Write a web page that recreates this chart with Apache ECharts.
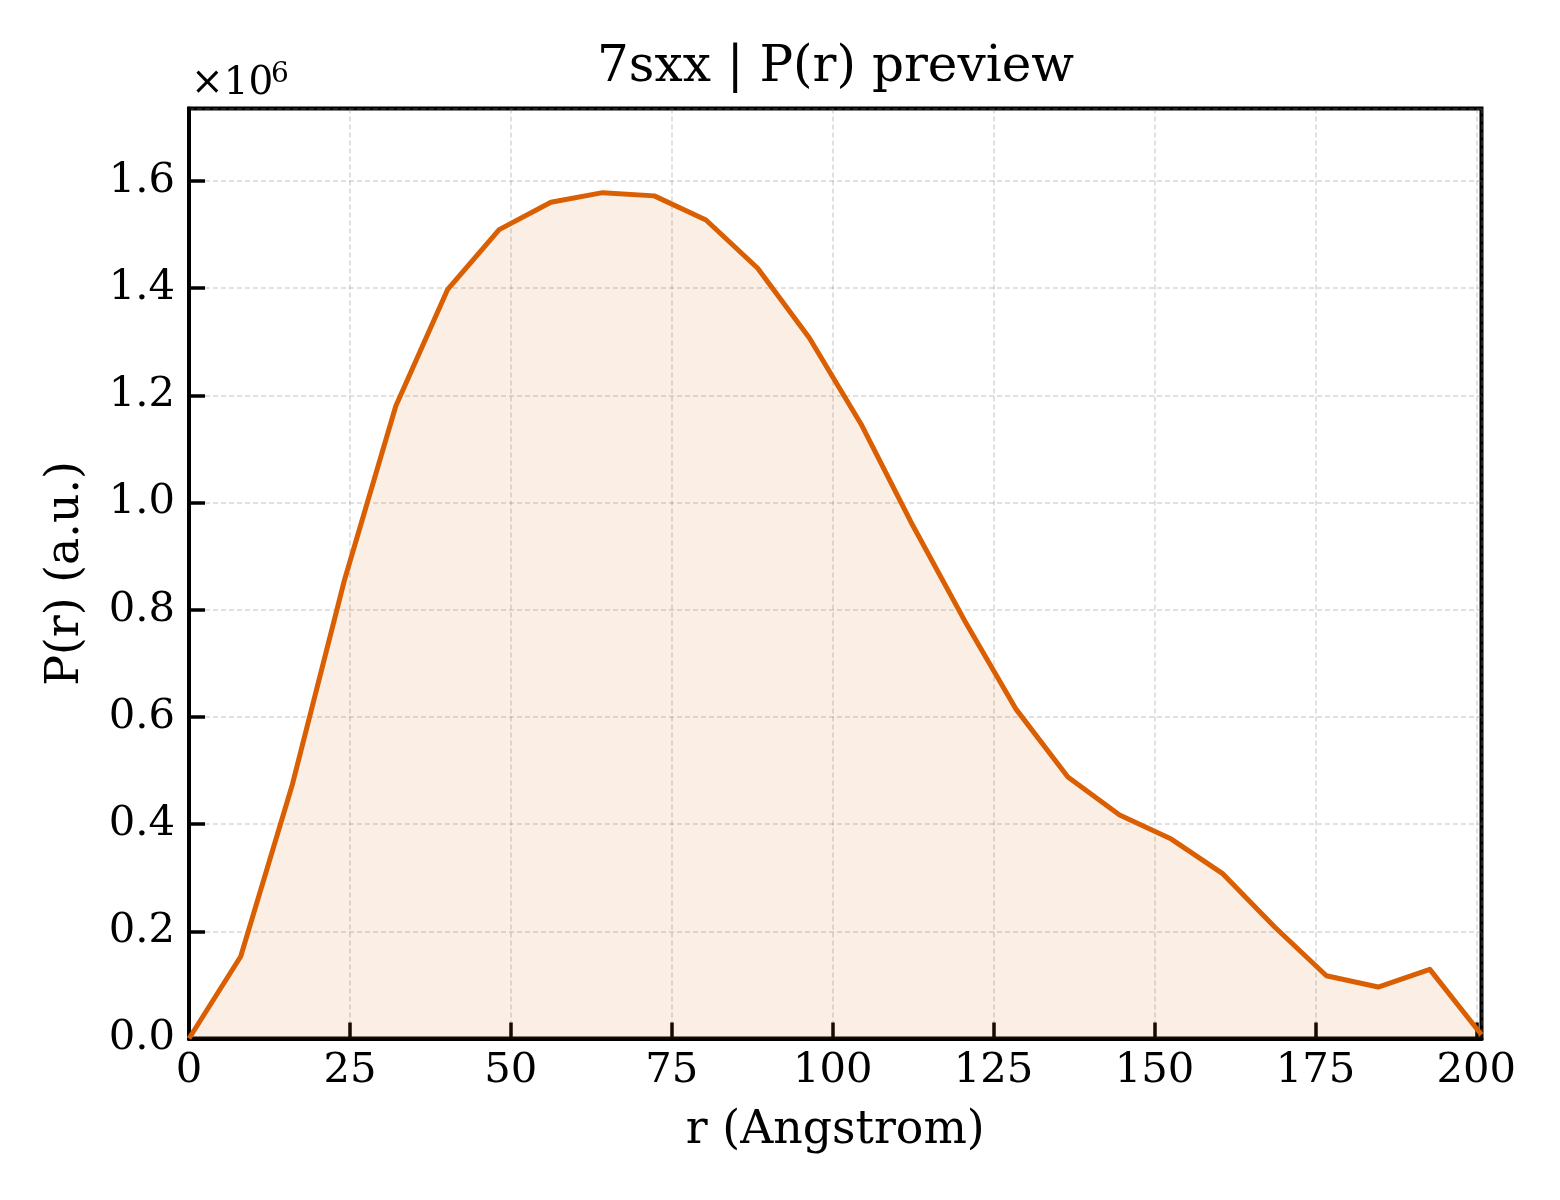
<!DOCTYPE html>
<html>
<head>
<meta charset="utf-8">
<script src="https://cdn.jsdelivr.net/npm/echarts@6/dist/echarts.min.js"></script>
<style>
  html, body { margin: 0; padding: 0; background: #ffffff; }
  #chart { width: 1560px; height: 1200px; }
</style>
</head>
<body>
<div id="chart"></div>
<script>
// r (Angstrom)
const rValues = [0, 8.03, 16.06, 24.1, 32.13, 40.16, 48.19, 56.22, 64.26, 72.29,
                 80.32, 88.35, 96.38, 104.42, 112.45, 120.48, 128.51, 136.54, 144.58,
                 152.61, 160.64, 168.67, 176.7, 184.74, 192.77, 200.8];
// P(r) in units of 1e6 (a.u.)
const prMillions = [0.0, 0.153, 0.474, 0.853, 1.180, 1.397, 1.509, 1.560, 1.578, 1.572,
                    1.527, 1.437, 1.307, 1.146, 0.957, 0.780, 0.614, 0.488, 0.417,
                    0.372, 0.307, 0.208, 0.117, 0.096, 0.129, 0.007];
const xTickValues = [0, 25, 50, 75, 100, 125, 150, 175, 200];
const yTickValues = [0.0, 0.2, 0.4, 0.6, 0.8, 1.0, 1.2, 1.4, 1.6];
const titleText = '7sxx | P(r) preview';
const xLabel = 'r (Angstrom)';
const yLabel = 'P(r) (a.u.)';

const FONT = "'DejaVu Serif', 'Liberation Serif', serif";
const chart = echarts.init(document.getElementById('chart'), null, { renderer: 'canvas' });

const gridStyle = { color: 'rgba(128,128,128,0.32)', width: 1.5, type: [5, 3] };

const option = {
  backgroundColor: '#ffffff',
  animation: false,
  grid: {
    left: 189, right: 78.5, top: 108.5, bottom: 161.5,
    show: true, borderColor: '#000', borderWidth: 4, backgroundColor: 'transparent',
    outerBoundsMode: 'none'
  },
  xAxis: {
    type: 'value',
    min: 0, max: 200.8, interval: 25,
    name: xLabel,
    nameLocation: 'middle',
    nameGap: 70,
    nameTextStyle: { fontFamily: FONT, fontSize: 45.8, color: '#000' },
    axisLine: { show: true, onZero: false, lineStyle: { color: '#000', width: 4 } },
    axisTick: { show: true, inside: true, length: 16, lineStyle: { color: '#000', width: 3.5 } },
    axisLabel: {
      fontFamily: FONT, fontSize: 41.7, color: '#000', margin: 12,
      showMaxLabel: false,
      formatter: v => (xTickValues.includes(v) ? String(v) : '')
    },
    splitLine: { show: true, lineStyle: gridStyle }
  },
  yAxis: {
    type: 'value',
    min: 0, max: 1.735, interval: 0.2,
    name: yLabel,
    nameLocation: 'middle',
    nameGap: 100,
    nameTextStyle: { fontFamily: FONT, fontSize: 45.8, color: '#000' },
    axisLine: { show: true, onZero: false, lineStyle: { color: '#000', width: 4 } },
    axisTick: { show: true, inside: true, length: 16, lineStyle: { color: '#000', width: 3.5 } },
    axisLabel: {
      fontFamily: FONT, fontSize: 41.7, color: '#000', margin: 14,
      showMaxLabel: false,
      formatter: v => {
        const hit = yTickValues.find(t => Math.abs(t - v) < 1e-6);
        return hit === undefined ? '' : hit.toFixed(1);
      }
    },
    splitLine: { show: true, lineStyle: gridStyle }
  },
  series: [{
    type: 'line',
    data: rValues.map((r, i) => [r, prMillions[i]]),
    showSymbol: false,
    symbol: 'none',
    lineStyle: { color: '#D95F02', width: 5, join: 'round' },
    itemStyle: { color: '#D95F02' },
    areaStyle: { color: 'rgba(217,95,2,0.15)' },
    z: 3
  }],
  graphic: [
    {
      type: 'text', x: 835.5, y: 68,
      style: { text: titleText, fontFamily: FONT, fontSize: 50, fill: '#000',
               align: 'center', verticalAlign: 'middle' }
    },
    {
      type: 'text', left: 191, top: 64,
      style: { text: '×10', fontFamily: FONT, fontSize: 39, fill: '#000' }
    },
    {
      type: 'text', left: 271, top: 61,
      style: { text: '6', fontFamily: FONT, fontSize: 28, fill: '#000' }
    }
  ]
};
chart.setOption(option);
</script>
</body>
</html>
